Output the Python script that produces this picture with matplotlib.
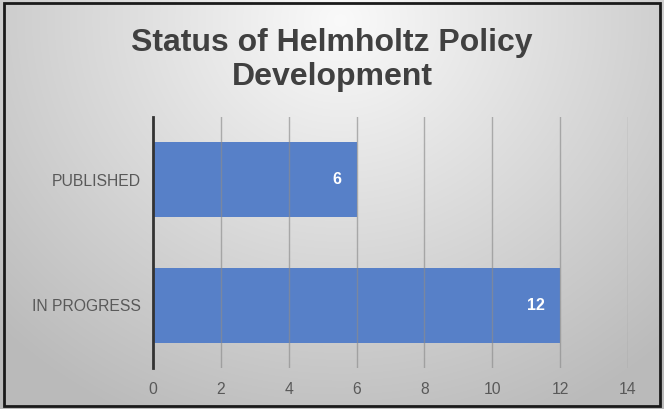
import numpy as np
import matplotlib.pyplot as plt
from matplotlib.patches import Rectangle

categories = ['IN PROGRESS', 'PUBLISHED']
values = [12, 6]
x_ticks = [0, 2, 4, 6, 8, 10, 12, 14]

plt.rcParams['font.family'] = ['Liberation Sans', 'DejaVu Sans']

fig = plt.figure(figsize=(6.64, 4.09), dpi=100)

# radial gradient background
bg = fig.add_axes([0, 0, 1, 1], zorder=0)
yy, xx = np.mgrid[0:409, 0:664]
d = np.sqrt(((xx - 340) / 500.0) ** 2 + ((yy - 20) / 460.0) ** 2)
shade = np.clip(0.98 - 0.26 * d, 0.73, 0.98)
bg.imshow(np.dstack([shade, shade, shade]), aspect='auto', extent=[0, 1, 0, 1])
bg.set_axis_off()
bg.add_patch(Rectangle((0.006, 0.008), 0.988, 0.985, transform=bg.transAxes,
                       fill=False, edgecolor='#1a1a1a', linewidth=2))

ax = fig.add_axes([153 / 664, 1 - 368 / 409, 475 / 664, 251 / 409], zorder=1)
ax.patch.set_alpha(0)

y = np.arange(len(categories))
bars = ax.barh(y, values, height=0.6, color='#5780C8', zorder=2)
for b, v in zip(bars, values):
    ax.text(b.get_width() - 0.45, b.get_y() + b.get_height() / 2, str(v),
            ha='right', va='center', color='white', fontweight='bold', fontsize=11.5, zorder=4)

ax.set_xlim(0, 14)
ax.set_ylim(-0.5, 1.5)
ax.set_xticks(x_ticks)
ax.set_yticks(y)
ax.set_yticklabels(categories)
ax.grid(axis='x', color='#8c8c8c', linewidth=1.0, alpha=0.65, zorder=3)
ax.set_axisbelow(False)
for s in ['top', 'right', 'bottom']:
    ax.spines[s].set_visible(False)
ax.spines['left'].set_color('#333333')
ax.spines['left'].set_linewidth(2)
ax.spines['left'].set_zorder(5)
ax.tick_params(axis='both', length=0, labelsize=11.3, labelcolor='#595959')
ax.tick_params(axis='x', pad=10)
ax.tick_params(axis='y', pad=9)

fig.text(0.5, 1 - 60 / 409, 'Status of Helmholtz Policy\nDevelopment', ha='center', va='center',
         fontsize=23, fontweight='bold', color='#404040', linespacing=1.2)

fig.savefig('out.png', dpi=100)
